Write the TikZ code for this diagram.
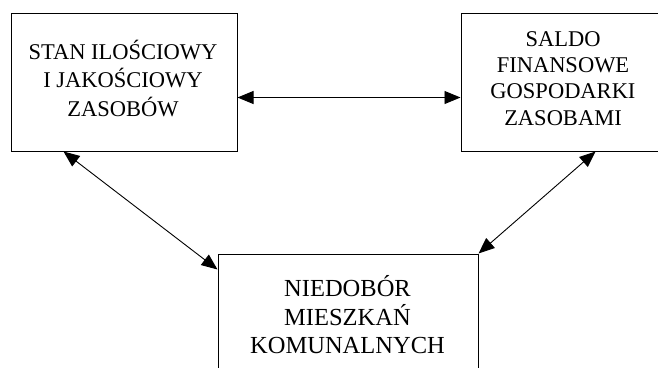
\documentclass[tikz,border=0pt]{standalone}
\usepackage{fontspec}
\setmainfont{Liberation Serif}
\usetikzlibrary{arrows.meta,calc}
\tikzset{
  box/.style={draw=black, line width=1pt, rectangle, inner sep=0pt, fill=none},
  lbl/.style={align=center, inner sep=0pt},
  dbl/.style={line width=0.9pt, {Triangle[length=16pt,width=13pt]}-{Triangle[length=16pt,width=13pt]}},
}
\begin{document}
\begin{tikzpicture}[x=1pt,y=-1pt]
\useasboundingbox (0,0) rectangle (658,367);
% boxes
\node[box, minimum width=226pt, minimum height=138pt] (L) at (124,82) {};
\node[box, minimum width=197.5pt, minimum height=138pt] (R) at (559.75,82) {};
\node[box, minimum width=260pt, minimum height=126pt] (B) at (348,317) {};
% texts
\node[lbl, font=\fontsize{22.5}{28.5}\selectfont] (Lt) at (123,78.5) {STAN ILOŚCIOWY\\I JAKOŚCIOWY\\ZASOBÓW};
\node[lbl, font=\fontsize{22.5}{26.3}\selectfont] (Rt) at (563,78.5) {SALDO\\FINANSOWE\\GOSPODARKI\\ZASOBAMI};
\node[lbl, font=\fontsize{24.5}{28.5}\selectfont] (Bt) at (347.5,315) {NIEDOBÓR\\MIESZKAŃ\\KOMUNALNYCH};
% connectors
\draw[dbl] ($(L.north east)+(0,85)$) -- ($(R.north west)+(0,85)$);
\draw[dbl] ($(L.south west)+(53,0)$) -- ($(B.north west)+(0,16)$);
\draw[dbl] ($(R.south west)+(135,0)$) -- (B.north east);
\end{tikzpicture}
\end{document}
